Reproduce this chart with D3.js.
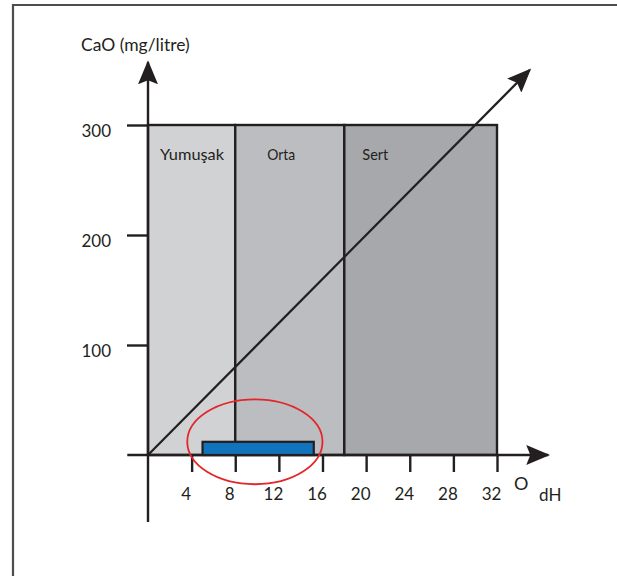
<!DOCTYPE html>
<html><head><meta charset="utf-8">
<script src="https://cdn.jsdelivr.net/npm/d3@7"></script>
<style>
body{margin:0;background:#fff;}
text{font-family:Lato,"Open Sans",sans-serif;fill:#231f20;}
</style></head>
<body><svg id="c" width="617" height="576"></svg>
<script>
// data
const bandNames = ["Yumuşak", "Orta", "Sert"];
const bandStart = [0, 8, 18];
const bandEnd = [8, 18, 32];
const bandTop = 300;
const xTicks = [4, 8, 12, 16, 20, 24, 28, 32];
const yTicks = [100, 200, 300];
const hardnessLine = [[0, 0], [35, 350]]; // 1 dH = 10 mg/l CaO
const highlightRange = [5, 15.2];
const highlightHeight = 12;
const ellipseCenter = [9.8, 12];
const ellipseRadii = [6.2, 38.6];

const bandColors = ["#d1d2d4", "#bcbdc0", "#a7a8ab"];
const ink = "#231f20";

const svg = d3.select("#c");
const x = d3.scaleLinear().domain([0, 32]).range([148, 497]);
const y = d3.scaleLinear().domain([0, 300]).range([455, 125]);

// frame
svg.append("path").attr("d", "M13,580 L13,5 L620,5").attr("fill", "none")
  .attr("stroke", "#4d4d4d").attr("stroke-width", 2.2);

// bands
svg.selectAll("rect.band").data(bandNames).join("rect")
  .attr("x", (d, i) => x(bandStart[i])).attr("y", y(bandTop))
  .attr("width", (d, i) => x(bandEnd[i]) - x(bandStart[i]))
  .attr("height", y(0) - y(bandTop))
  .attr("fill", (d, i) => bandColors[i]).attr("stroke", ink).attr("stroke-width", 2.4);

svg.selectAll("text.band").data(bandNames).join("text")
  .attr("x", (d, i) => x(bandStart[i]) + [12, 32, 18][i])
  .attr("y", y(bandTop) + 35)
  .attr("font-size", 16)
  .attr("textLength", (d, i) => [64, 28, 26][i]).attr("lengthAdjust", "spacingAndGlyphs")
  .text(d => d);

// defs arrow
const defs = svg.append("defs");
defs.append("marker").attr("id", "arr").attr("viewBox", "0 0 24 20")
  .attr("refX", 22).attr("refY", 10).attr("markerWidth", 24).attr("markerHeight", 20)
  .attr("markerUnits", "userSpaceOnUse").attr("orient", "auto")
  .append("path").attr("d", "M0,0 L24,10 L0,20 L4,10 Z").attr("fill", ink);

// axes
const xAxis = d3.axisBottom(x).tickValues(xTicks).tickSize(17).tickPadding(16);
const gx = svg.append("g").attr("transform", `translate(0,${y(0)})`).call(xAxis);
gx.select(".domain").remove();
gx.selectAll(".tick line").attr("stroke", ink).attr("stroke-width", 2.4);
gx.selectAll(".tick text").attr("font-size", 17).attr("fill", ink).attr("dx", -6).style("font-family", "Lato");

const yAxis = d3.axisLeft(y).tickValues(yTicks).tickSize(21).tickPadding(16);
const gy = svg.append("g").attr("transform", `translate(${x(0)},0)`).call(yAxis);
gy.select(".domain").remove();
gy.selectAll(".tick line").attr("stroke", ink).attr("stroke-width", 2.4);
gy.selectAll(".tick text").attr("font-size", 17).attr("fill", ink).attr("dy", "0.66em").style("font-family", "Lato");

// axis lines with arrows
svg.append("line").attr("x1", x(-1.9)).attr("y1", y(0)).attr("x2", x(36.7)).attr("y2", y(0))
  .attr("stroke", ink).attr("stroke-width", 2.4).attr("marker-end", "url(#arr)");
svg.append("line").attr("x1", x(0)).attr("y1", y(-61)).attr("x2", x(0)).attr("y2", y(357))
  .attr("stroke", ink).attr("stroke-width", 2.4).attr("marker-end", "url(#arr)");

// hardness line
svg.append("path").datum(hardnessLine)
  .attr("d", d3.line().x(d => x(d[0])).y(d => y(d[1])))
  .attr("fill", "none").attr("stroke", ink).attr("stroke-width", 2.2).attr("marker-end", "url(#arr)");

// highlight bar
svg.append("rect").attr("x", x(highlightRange[0])).attr("y", y(highlightHeight))
  .attr("width", x(highlightRange[1]) - x(highlightRange[0]))
  .attr("height", y(0) - y(highlightHeight))
  .attr("fill", "#1273bd").attr("stroke", ink).attr("stroke-width", 2.2);

// ellipse
svg.append("ellipse").attr("cx", x(ellipseCenter[0])).attr("cy", y(ellipseCenter[1]))
  .attr("rx", x(ellipseRadii[0]) - x(0)).attr("ry", y(0) - y(ellipseRadii[1]))
  .attr("fill", "none").attr("stroke", "#e3262b").attr("stroke-width", 1.8);

// labels
svg.append("text").attr("x", 81).attr("y", 51).attr("font-size", 17.5).text("CaO (mg/litre)");
svg.append("text").attr("x", 514).attr("y", 490).attr("font-size", 18).text("O");
svg.append("text").attr("x", 539).attr("y", 501).attr("font-size", 17).text("dH");
</script></body></html>
